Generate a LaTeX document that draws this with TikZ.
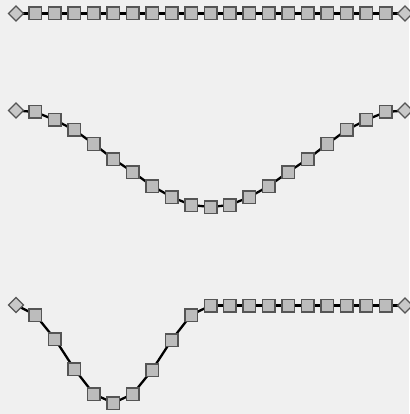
\documentclass[tikz,border=0pt]{standalone}
\usetikzlibrary{shapes.geometric,backgrounds}
\definecolor{bgc}{RGB}{240,240,240}
\definecolor{linkfill}{RGB}{188,188,188}
\definecolor{linkdraw}{RGB}{85,85,85}
\definecolor{endfill}{RGB}{200,200,200}
\tikzset{
  link/.style={rectangle,draw=linkdraw,fill=linkfill,line width=1.5pt,minimum size=12.5pt,inner sep=0pt},
  endpt/.style={diamond,draw=linkdraw,fill=endfill,line width=1.3pt,minimum size=15.5pt,inner sep=0pt},
  chainline/.style={draw=black,line width=2.3pt}
}
\newcommand{\mkchain}[2]{%
  \foreach \yy [count=\i from 0] in {#2} {%
    \ifnum\i=0 \def\sty{endpt}\else\ifnum\i=20 \def\sty{endpt}\else\def\sty{link}\fi\fi
    \node[\sty] (#1\i) at ({16+19.45*\i},\yy) {};
  }%
  \begin{scope}[on background layer]
    \foreach \i [evaluate=\i as \j using int(\i+1)] in {0,...,19} {
      \draw[chainline] (#1\i.center) -- (#1\j.center);
    }
  \end{scope}
}
\begin{document}
\begin{tikzpicture}[x=1pt,y=-1pt]
\begin{scope}[on background layer]
\fill[bgc] (0,0) rectangle (409,414);
\end{scope}
\useasboundingbox (0,0) rectangle (409,414);
\mkchain{t}{13.5,13.5,13.5,13.5,13.5,13.5,13.5,13.5,13.5,13.5,13.5,13.5,13.5,13.5,13.5,13.5,13.5,13.5,13.5,13.5,13.5}
\mkchain{m}{110.5,112,120,130,144,159,172,186,197,205,207,205,197,186,172,159,144,130,120,112,110.5}
\mkchain{b}{305,315,339,369,394,403,394,370,340,315,305.5,305.5,305.5,305.5,305.5,305.5,305.5,305.5,305.5,305.5,305.5}
\end{tikzpicture}
\end{document}
